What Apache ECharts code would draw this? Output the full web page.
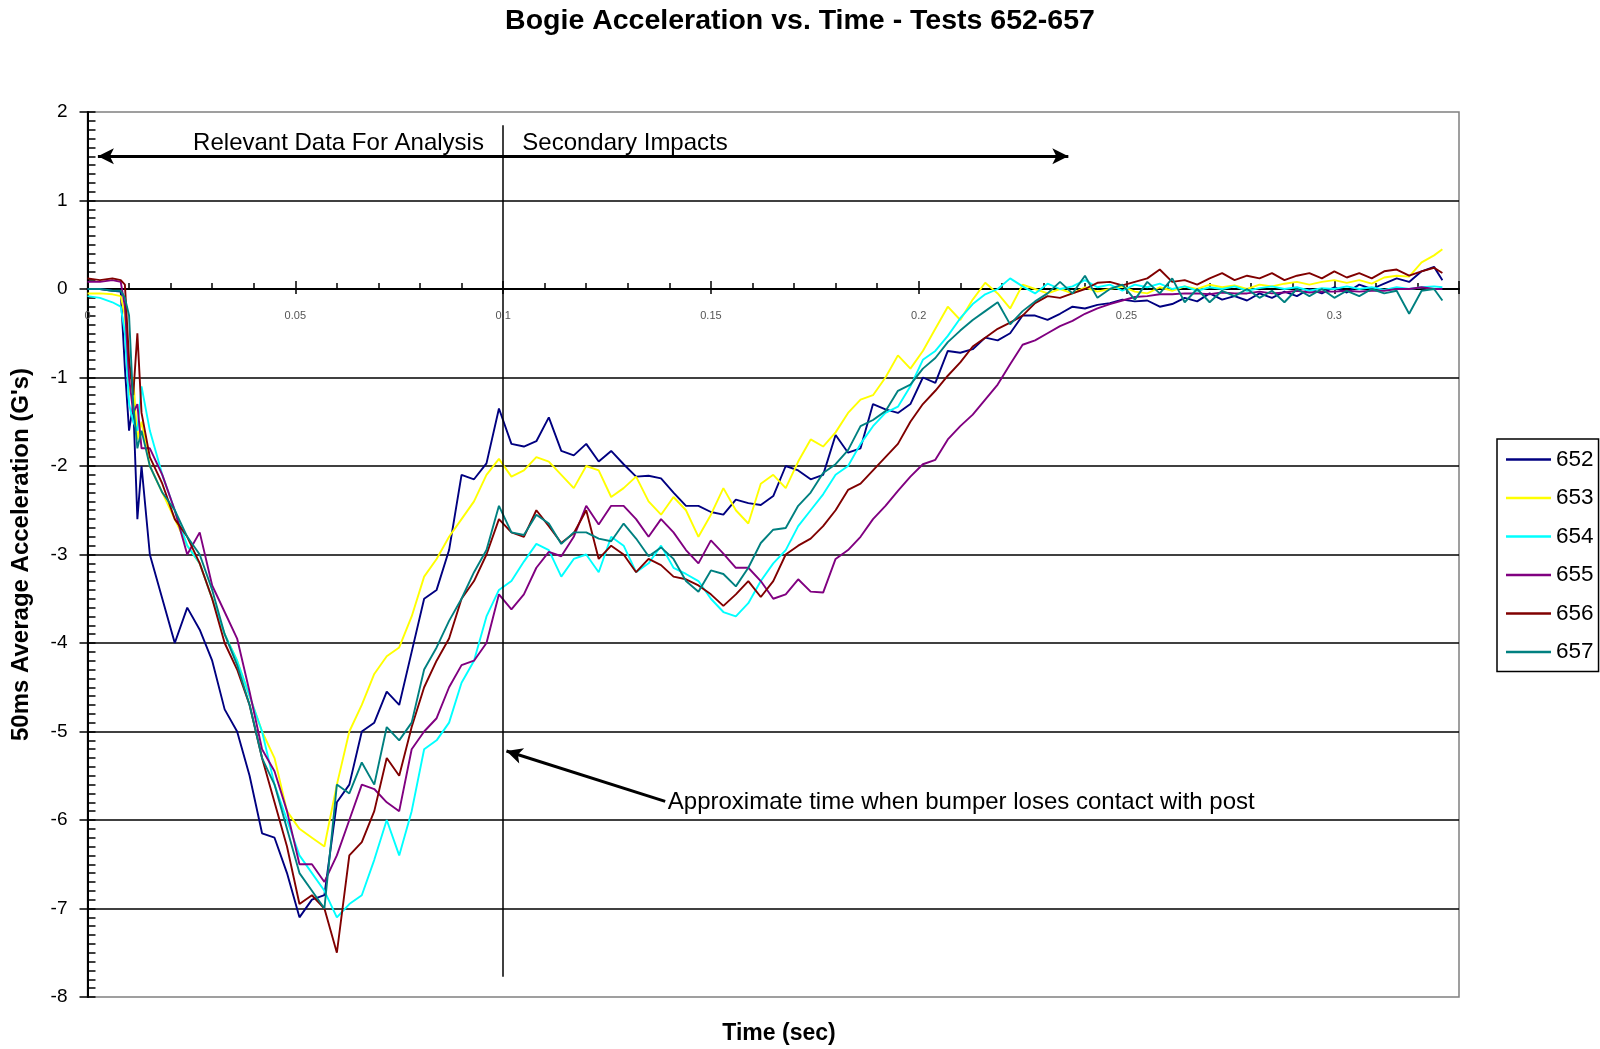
<!DOCTYPE html>
<html>
<head>
<meta charset="utf-8">
<title>Bogie Acceleration vs. Time - Tests 652-657</title>
<script src="https://cdn.jsdelivr.net/npm/echarts@6/dist/echarts.min.js"></script>
<style>
  html, body { margin: 0; padding: 0; background: #fff; }
  #chart { width: 1600px; height: 1049px; }
</style>
</head>
<body>
<div id="chart"></div>
<script>
// time in seconds, shared by all tests
const time = [
  0, 0.003, 0.006, 0.008, 0.009, 0.010, 0.011, 0.012, 0.013,
  0.015, 0.018, 0.021, 0.024, 0.027, 0.030, 0.033, 0.036, 0.039, 0.042,
  0.045, 0.048, 0.051, 0.054, 0.057, 0.060, 0.063, 0.066, 0.069, 0.072,
  0.075, 0.078, 0.081, 0.084, 0.087, 0.090, 0.093, 0.096, 0.099, 0.102,
  0.105, 0.108, 0.111, 0.114, 0.117, 0.120, 0.123, 0.126, 0.129, 0.132,
  0.135, 0.138, 0.141, 0.144, 0.147, 0.150, 0.153, 0.156, 0.159, 0.162,
  0.165, 0.168, 0.171, 0.174, 0.177, 0.180, 0.183, 0.186, 0.189, 0.192,
  0.195, 0.198, 0.201, 0.204, 0.207, 0.210, 0.213, 0.216, 0.219, 0.222,
  0.225, 0.228, 0.231, 0.234, 0.237, 0.240, 0.243, 0.246, 0.249, 0.252,
  0.255, 0.258, 0.261, 0.264, 0.267, 0.270, 0.273, 0.276, 0.279, 0.282,
  0.285, 0.288, 0.291, 0.294, 0.297, 0.300, 0.303, 0.306, 0.309, 0.312,
  0.315, 0.318, 0.321, 0.324, 0.326
];

// 50ms average acceleration (G's), one list per test
const s652 = [
  0.0, 0.0, -0.02, -0.03, -0.9, -1.6, -1.3, -2.6, -2.0,
  -3.0, -3.5, -4.0, -3.6, -3.85, -4.2, -4.75, -5.0, -5.5, -6.15,
  -6.2, -6.6, -7.1, -6.9, -6.85, -5.8, -5.6, -5.0, -4.9, -4.55,
  -4.7, -4.1, -3.5, -3.4, -2.95, -2.1, -2.15, -1.97, -1.35, -1.75,
  -1.78, -1.72, -1.45, -1.83, -1.88, -1.75, -1.95, -1.83, -1.98, -2.12,
  -2.11, -2.14, -2.3, -2.45, -2.45, -2.52, -2.55, -2.38, -2.42, -2.44,
  -2.34, -2.0, -2.05, -2.15, -2.1, -1.65, -1.85, -1.8, -1.3, -1.36,
  -1.4, -1.3, -1.0, -1.06, -0.7, -0.72, -0.68, -0.55, -0.58, -0.5,
  -0.3, -0.3, -0.35, -0.28, -0.2, -0.22, -0.18, -0.16, -0.12, -0.14,
  -0.13, -0.2, -0.17, -0.1, -0.14, -0.05, -0.12, -0.08, -0.13, -0.05,
  -0.1, -0.03, -0.08, 0.0, -0.05, 0.02, -0.04, 0.05, 0.0, 0.06,
  0.12, 0.08, 0.2, 0.25, 0.1
];
const s653 = [
  -0.05, -0.05, -0.06, -0.08, -0.3, -1.2, -1.0, -1.7, -1.5,
  -2.0, -2.3, -2.6, -2.9, -3.1, -3.5, -3.9, -4.2, -4.6, -5.0,
  -5.3, -5.9, -6.1, -6.2, -6.3, -5.6, -5.0, -4.7, -4.35, -4.15,
  -4.05, -3.7, -3.25, -3.05, -2.8, -2.6, -2.4, -2.1, -1.92, -2.12,
  -2.05, -1.9, -1.95, -2.1, -2.25, -2.0, -2.05, -2.35, -2.25, -2.12,
  -2.4, -2.55, -2.35, -2.5, -2.8, -2.55, -2.25, -2.5, -2.65, -2.2,
  -2.1, -2.25, -1.95, -1.7, -1.78, -1.62, -1.4, -1.25, -1.2, -1.0,
  -0.75, -0.9, -0.7, -0.45, -0.2, -0.35, -0.12, 0.07, -0.05, -0.22,
  0.05, 0.0, -0.05, 0.0, -0.05, 0.02, -0.03, 0.0, 0.03, -0.03,
  -0.05, 0.02, -0.02, 0.03, 0.0, 0.05, 0.02, 0.04, 0.0, 0.05,
  0.03, 0.06, 0.08, 0.05, 0.08, 0.1, 0.07, 0.1, 0.06, 0.13,
  0.15, 0.14, 0.3, 0.38, 0.45
];
const s654 = [
  -0.08, -0.1, -0.15, -0.2, -0.5, -1.3, -1.5, -1.6, -1.1,
  -1.6, -2.1, -2.5, -2.9, -3.1, -3.5, -3.9, -4.2, -4.6, -5.0,
  -5.6, -6.0, -6.4, -6.6, -6.8, -7.1, -6.95, -6.85, -6.45, -6.0,
  -6.4, -5.9, -5.2, -5.1, -4.9, -4.45, -4.2, -3.7, -3.4, -3.3,
  -3.08, -2.88, -2.95, -3.25, -3.05, -3.0, -3.2, -2.8, -2.9, -3.2,
  -3.1, -2.9, -3.15, -3.22, -3.3, -3.5, -3.65, -3.7, -3.55, -3.3,
  -3.1, -2.95, -2.68, -2.5, -2.32, -2.1, -2.0, -1.75, -1.55, -1.4,
  -1.33, -1.1, -0.8, -0.7, -0.53, -0.33, -0.17, -0.06, 0.0, 0.12,
  0.03, -0.05, 0.06, 0.0, 0.03, 0.1, 0.02, 0.05, -0.02, 0.05,
  0.02, 0.06, 0.0, 0.03, -0.02, 0.02, 0.0, 0.03, -0.02, 0.01,
  0.03, 0.0, 0.02, -0.02, 0.01, 0.0, 0.03, 0.0, 0.02, -0.01,
  0.02, 0.0, 0.02, 0.03, 0.02
];
const s655 = [
  0.08, 0.08, 0.1, 0.08, -0.2, -1.0, -1.4, -1.3, -1.8,
  -1.8, -2.1, -2.5, -3.0, -2.75, -3.35, -3.65, -3.95, -4.55, -5.2,
  -5.45, -5.9, -6.5, -6.5, -6.7, -6.4, -6.0, -5.6, -5.65, -5.8,
  -5.9, -5.2, -5.0, -4.85, -4.5, -4.25, -4.2, -4.0, -3.45, -3.62,
  -3.45, -3.15, -2.97, -3.02, -2.8, -2.45, -2.66, -2.45, -2.45, -2.6,
  -2.8, -2.6, -2.75, -2.95, -3.1, -2.84, -2.99, -3.15, -3.15, -3.3,
  -3.5, -3.45, -3.28, -3.42, -3.43, -3.05, -2.95, -2.8, -2.6, -2.45,
  -2.28, -2.12, -1.98, -1.93, -1.7, -1.55, -1.42, -1.25, -1.08, -0.85,
  -0.63, -0.58, -0.5, -0.42, -0.36, -0.28, -0.22, -0.17, -0.13, -0.09,
  -0.08, -0.06, -0.06, -0.05, -0.05, -0.06, -0.04, -0.05, -0.05, -0.03,
  -0.05, -0.04, -0.02, -0.04, -0.03, -0.03, -0.02, -0.03, -0.02, -0.02,
  0.0, 0.0, 0.02, 0.0, 0.0
];
const s656 = [
  0.12, 0.1, 0.12, 0.1, 0.05, -0.8, -1.2, -0.5, -1.4,
  -1.9, -2.2, -2.6, -2.8, -3.1, -3.5, -4.0, -4.3, -4.7, -5.3,
  -5.8, -6.3, -6.95, -6.85, -7.0, -7.5, -6.4, -6.25, -5.9, -5.3,
  -5.5, -4.95, -4.5, -4.2, -3.95, -3.5, -3.3, -3.0, -2.6, -2.75,
  -2.8, -2.5, -2.68, -2.87, -2.76, -2.5, -3.05, -2.9, -3.0, -3.2,
  -3.05, -3.12, -3.25, -3.28, -3.35, -3.45, -3.58, -3.45, -3.3, -3.48,
  -3.3, -3.0, -2.9, -2.82, -2.68, -2.5, -2.27, -2.2, -2.05, -1.9,
  -1.75, -1.5, -1.3, -1.15, -0.98, -0.83, -0.65, -0.55, -0.45, -0.38,
  -0.3, -0.16, -0.08, -0.1, -0.05, 0.0, 0.07, 0.08, 0.04, 0.08,
  0.12, 0.22, 0.08, 0.1, 0.05, 0.12, 0.18, 0.1, 0.15, 0.12,
  0.18, 0.1, 0.15, 0.18, 0.12, 0.2, 0.13, 0.18, 0.12, 0.2,
  0.22, 0.15, 0.2, 0.24, 0.18
];
const s657 = [
  0.0, 0.0, -0.02, -0.02, -0.1, -0.3, -1.3, -1.8, -1.6,
  -2.0, -2.3, -2.5, -2.8, -3.0, -3.4, -3.9, -4.25, -4.7, -5.3,
  -5.6, -6.1, -6.6, -6.8, -7.0, -5.6, -5.7, -5.35, -5.6, -4.95,
  -5.1, -4.9, -4.3, -4.05, -3.75, -3.5, -3.2, -2.95, -2.45, -2.75,
  -2.78, -2.55, -2.65, -2.88, -2.75, -2.75, -2.82, -2.85, -2.65, -2.82,
  -3.02, -2.92, -3.05, -3.3, -3.42, -3.18, -3.22, -3.36, -3.15, -2.87,
  -2.72, -2.7, -2.45, -2.3, -2.08, -1.98, -1.82, -1.55, -1.48, -1.38,
  -1.15, -1.08, -0.9, -0.78, -0.6, -0.47, -0.35, -0.25, -0.15, -0.4,
  -0.25, -0.14, -0.05, 0.08, -0.05, 0.15, -0.1, 0.0, 0.05, -0.12,
  0.08, -0.05, 0.12, -0.15, 0.0, -0.15, -0.02, -0.08, 0.0, -0.1,
  -0.02, -0.15, 0.0, -0.08, 0.0, -0.1, -0.02, -0.08, 0.0, -0.05,
  -0.02, -0.28, -0.02, 0.0, -0.13
];

const tests = ['652', '653', '654', '655', '656', '657'];
const colors = ['#000080', '#FFFF00', '#00FFFF', '#800080', '#800000', '#008080'];
const values = [s652, s653, s654, s655, s656, s657];

// x tick labels sit under the zero line
const xTickValues = [0, 0.05, 0.1, 0.15, 0.2, 0.25, 0.3];
const xTickLabels = ['0', '0.05', '0.1', '0.15', '0.2', '0.25', '0.3'];

const FONT = "'Liberation Sans', Arial, sans-serif";
const black = { color: '#000', width: 1.5 };

const series = tests.map((name, i) => ({
  name: name,
  type: 'line',
  symbol: 'none',
  data: time.map((t, k) => [t, values[i][k]]),
  lineStyle: { color: colors[i], width: 1.9 },
  itemStyle: { color: colors[i] },
  z: 2
}));

// annotations: lines, arrows, notes and x tick labels
series.push({
  name: 'notes',
  type: 'line',
  data: [],
  silent: true,
  z: 5,
  markLine: {
    silent: true,
    animation: false,
    label: { show: false },
    lineStyle: { color: '#000', type: 'solid', width: 3 },
    data: [
      [
        { coord: [0.1, 1.85], symbol: 'none', lineStyle: { color: '#000', type: 'solid', width: 1.5 } },
        { coord: [0.1, -7.77], symbol: 'none' }
      ],
      [
        { coord: [0.0025, 1.5], symbol: 'arrow', symbolSize: [12, 16] },
        { coord: [0.236, 1.5], symbol: 'arrow', symbolSize: [12, 16] }
      ],
      [
        { coord: [0.139, -5.79], symbol: 'none' },
        { coord: [0.1008, -5.22], symbol: 'arrow', symbolSize: [12, 16] }
      ]
    ]
  },
  markPoint: {
    silent: true,
    animation: false,
    symbol: 'circle',
    symbolSize: 1,
    itemStyle: { color: 'rgba(0,0,0,0)' },
    label: { show: true, color: '#000', fontFamily: FONT, fontSize: 24 },
    data: [
      { coord: [0.0955, 1.647], label: { formatter: 'Relevant Data For Analysis', position: 'left', distance: 0 } },
      { coord: [0.1045, 1.647], label: { formatter: 'Secondary Impacts', position: 'right', distance: 0 } },
      { coord: [0.1395, -5.8], label: { formatter: 'Approximate time when bumper loses contact with post', position: 'right', distance: 0 } }
    ].concat(xTickValues.map((v, i) => ({
      coord: [v, 0],
      label: { formatter: xTickLabels[i], position: 'bottom', distance: 21, fontSize: 11, color: '#555' }
    })))
  }
});

const chart = echarts.init(document.getElementById('chart'));
chart.setOption({
  animation: false,
  backgroundColor: '#fff',
  title: {
    text: 'Bogie Acceleration vs. Time - Tests 652-657',
    left: 'center',
    top: 2,
    textStyle: {
      fontFamily: FONT,
      fontWeight: 'bold',
      fontSize: 28.5,
      color: '#000'
    }
  },
  legend: {
    data: tests,
    orient: 'vertical',
    left: 1497,
    top: 439,
    padding: [9, 5, 8, 9],
    icon: 'rect',
    itemWidth: 45,
    itemHeight: 2.5,
    itemGap: 15.5,
    backgroundColor: '#fff',
    borderColor: '#000',
    borderWidth: 1.5,
    borderRadius: 0,
    selectedMode: false,
    textStyle: { fontFamily: FONT, fontSize: 22.5, color: '#000' }
  },
  grid: {
    left: 87.5,
    right: 141,
    top: 112,
    bottom: 52,
    show: true,
    borderColor: '#808080',
    borderWidth: 1.5,
    backgroundColor: '#fff'
  },
  xAxis: [
    {
      type: 'value',
      min: 0,
      max: 0.33,
      interval: 0.05,
      axisLine: { onZero: true, lineStyle: { color: '#000', width: 2 } },
      axisTick: { inside: true, length: 8, lineStyle: black },
      minorTick: { show: true, splitNumber: 5, length: 6, lineStyle: black },
      axisLabel: { show: false },
      splitLine: { show: false }
    },
    {
      type: 'value',
      min: 0,
      max: 0.33,
      interval: 0.05,
      position: 'bottom',
      axisLine: { show: false, onZero: true },
      axisTick: { show: true, inside: false, length: 5, lineStyle: black },
      axisLabel: { show: false },
      splitLine: { show: false }
    }
  ],
  yAxis: [
    {
      type: 'value',
      min: -8,
      max: 2,
      interval: 1,
      name: "50ms Average Acceleration (G's)",
      nameLocation: 'middle',
      nameGap: 54,
      nameTextStyle: { fontFamily: FONT, fontWeight: 'bold', fontSize: 24, color: '#000' },
      axisLine: { show: true, lineStyle: { color: '#000', width: 2 } },
      axisTick: { show: true, inside: true, length: 8, lineStyle: black },
      minorTick: { show: true, splitNumber: 10, length: 8, lineStyle: black },
      axisLabel: { fontFamily: FONT, fontSize: 19, color: '#000', margin: 20 },
      splitLine: { show: true, showMinLine: false, showMaxLine: false, lineStyle: { color: '#000', width: 1.5 } }
    },
    {
      type: 'value',
      min: -8,
      max: 2,
      interval: 1,
      position: 'left',
      axisLine: { show: false },
      axisTick: { show: true, inside: false, length: 8, lineStyle: black },
      axisLabel: { show: false },
      splitLine: { show: false }
    }
  ],
  graphic: [
    {
      type: 'text',
      x: 779,
      y: 1034,
      style: {
        text: 'Time (sec)',
        fontFamily: FONT,
        fontWeight: 'bold',
        fontSize: 23,
        fill: '#000',
        align: 'center',
        verticalAlign: 'middle'
      }
    }
  ],
  series: series
});
</script>
</body>
</html>
